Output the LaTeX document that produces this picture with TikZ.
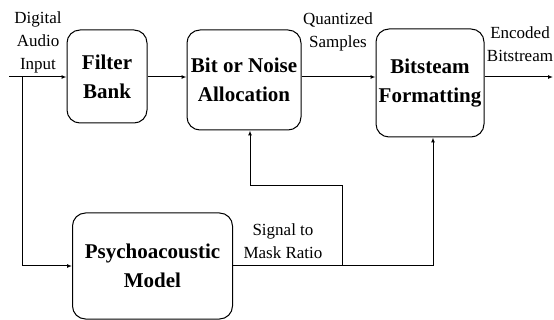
\documentclass[tikz,border=0pt]{standalone}
\usepackage{fontspec}
\setmainfont{Liberation Serif}
\usetikzlibrary{arrows.meta}

\begin{document}
\begin{tikzpicture}[x=1pt,y=-1pt,line width=1pt,>={Latex[length=5pt,width=4pt]},
  blk/.style={draw,rounded corners=13pt,align=center,inner sep=0pt,
    font=\rmfamily\bfseries\fontsize{21}{29}\selectfont},
  lbl/.style={align=center,inner sep=0pt,font=\rmfamily\fontsize{17}{23}\selectfont}]
\useasboundingbox (0,0) rectangle (554,320);
\node[blk,minimum width=80pt,minimum height=93pt] (fb) at (107,76.5) {Filter\\Bank};
\node[blk,minimum width=114pt,minimum height=100pt] (bna) at (244,80) {Bit or Noise\\Allocation};
\node[blk,minimum width=108pt,minimum height=108pt] (bf) at (430,83) {Bitsteam\\Formatting};
\node[blk,minimum width=160pt,minimum height=106pt] (pm) at (152.5,266) {Psychoacoustic\\Model};
\node[lbl] (dai) at (38,42) {Digital\\Audio\\Input};
\node[lbl] (qs) at (338,32) {Quantized\\Samples};
\node[lbl] (eb) at (520,44) {Encoded\\Bitstream};
\node[lbl] (smr) at (283,241) {Signal to\\Mask Ratio};
\coordinate (in) at (9,77);
\coordinate (out) at (553,77);
\coordinate (split) at (22,77);
\coordinate (turn) at (342,186);
\draw[->] (in) -- (in -| fb.west);
\draw[->] (split) |- (pm.west);
\draw[->] (fb.east |- in) -- (in -| bna.west);
\draw[->] (bna.east |- in) -- (in -| bf.west);
\draw[->] (bf.east |- out) -- (out);
\draw[->] (pm.east) -| ([xshift=3pt]bf.south);
\draw[->] (pm.east -| turn) -- (turn) -| ([xshift=6pt]bna.south);
\end{tikzpicture}
\end{document}
